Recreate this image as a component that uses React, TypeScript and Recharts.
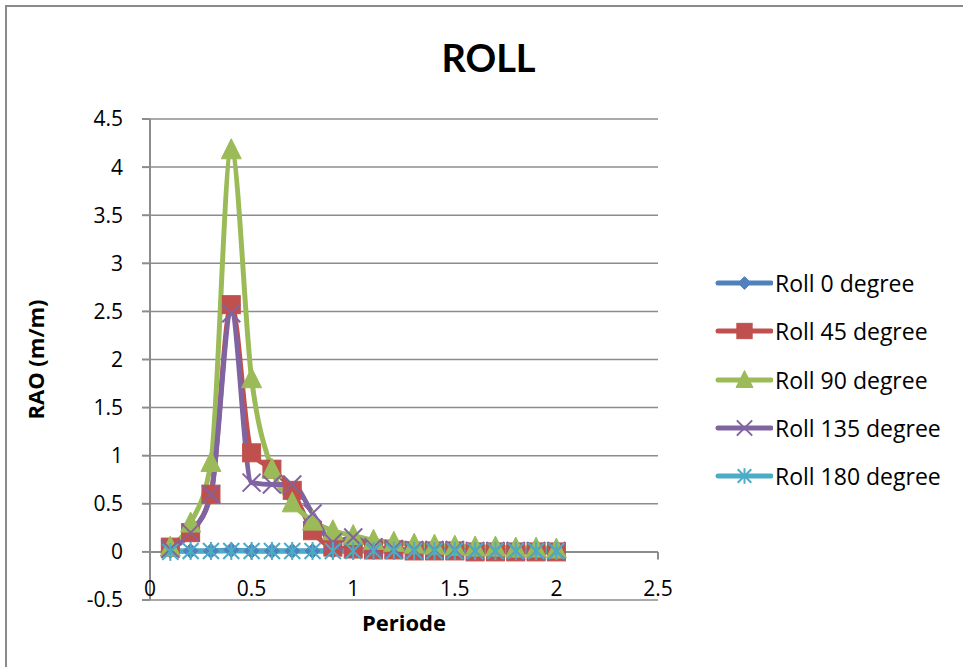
import React from 'react';
import { LineChart, Line, XAxis, YAxis, CartesianGrid, Legend, ReferenceLine, Label } from 'recharts';

const periods = [0.1, 0.2, 0.3, 0.4, 0.5, 0.6, 0.7, 0.8, 0.9, 1.0, 1.1, 1.2, 1.3, 1.4, 1.5, 1.6, 1.7, 1.8, 1.9, 2.0];
const roll0 = [0.01, 0.01, 0.01, 0.02, 0.01, 0.01, 0.01, 0.01, 0.01, 0.01, 0.01, 0.01, 0.01, 0.01, 0.01, 0.01, 0.01, 0.01, 0.01, 0.01];
const roll45 = [0.05, 0.2, 0.6, 2.57, 1.03, 0.86, 0.64, 0.22, 0.05, 0.03, 0.02, 0.02, 0.01, 0.01, 0.01, 0.0, 0.0, 0.0, 0.0, 0.0];
const roll90 = [0.05, 0.3, 0.93, 4.18, 1.8, 0.86, 0.51, 0.32, 0.22, 0.17, 0.12, 0.1, 0.08, 0.07, 0.06, 0.05, 0.05, 0.04, 0.04, 0.03];
const roll135 = [0.03, 0.2, 0.6, 2.48, 0.72, 0.7, 0.7, 0.4, 0.1, 0.15, 0.05, 0.03, 0.02, 0.02, 0.02, 0.01, 0.01, 0.01, 0.01, 0.01];
const roll180 = [0.0, 0.01, 0.01, 0.01, 0.01, 0.01, 0.01, 0.01, 0.01, 0.01, 0.01, 0.01, 0.01, 0.01, 0.01, 0.01, 0.01, 0.01, 0.01, 0.01];

const seriesNames = ['Roll 0 degree', 'Roll 45 degree', 'Roll 90 degree', 'Roll 135 degree', 'Roll 180 degree'];
const seriesKeys = ['r0', 'r45', 'r90', 'r135', 'r180'];
const seriesColors = ['#4F81BD', '#C0504D', '#9BBB59', '#8064A2', '#4BACC6'];
const seriesMarkers = ['diamond', 'square', 'triangle', 'x', 'star'];

const xTicks = [0, 0.5, 1, 1.5, 2, 2.5];
const yTicks = [-0.5, 0, 0.5, 1, 1.5, 2, 2.5, 3, 3.5, 4, 4.5];

const allSeries = [roll0, roll45, roll90, roll135, roll180];
const data = periods.map((p, i) => {
  const row: any = { x: p };
  seriesKeys.forEach((k, j) => { row[k] = allSeries[j][i]; });
  return row;
});

const GRID = '#8c8c8c';
const FONT = '"Open Sans", sans-serif';

function Marker({ kind, cx, cy, color, scale = 1 }: { kind: string; cx: number; cy: number; color: string; scale?: number }) {
  if (cx == null || cy == null) return null;
  switch (kind) {
    case 'diamond': {
      const s = 7.5 * scale;
      return <polygon points={`${cx},${cy - s} ${cx + s},${cy} ${cx},${cy + s} ${cx - s},${cy}`} fill={color} stroke={color} strokeWidth={1} />;
    }
    case 'square': {
      const s = 9 * scale;
      return <rect x={cx - s} y={cy - s} width={2 * s} height={2 * s} fill={color} stroke={color} strokeWidth={1} />;
    }
    case 'triangle': {
      const s = 10 * scale;
      return <polygon points={`${cx},${cy - s - 1} ${cx + s},${cy + s - 1} ${cx - s},${cy + s - 1}`} fill={color} stroke={color} strokeWidth={1} />;
    }
    case 'x': {
      const s = 9 * scale;
      return (
        <g stroke={color} strokeWidth={2}>
          <line x1={cx - s} y1={cy - s} x2={cx + s} y2={cy + s} />
          <line x1={cx - s} y1={cy + s} x2={cx + s} y2={cy - s} />
        </g>
      );
    }
    case 'star': {
      const s = 8 * scale;
      return (
        <g stroke={color} strokeWidth={2}>
          <line x1={cx - s} y1={cy - s} x2={cx + s} y2={cy + s} />
          <line x1={cx - s} y1={cy + s} x2={cx + s} y2={cy - s} />
          <line x1={cx} y1={cy - s - 1} x2={cx} y2={cy + s + 1} />
        </g>
      );
    }
    default:
      return null;
  }
}

const makeDot = (kind: string, color: string) => (props: any) => (
  <g key={`${kind}-${props.index}`}>
    <Marker kind={kind} cx={props.cx} cy={props.cy} color={color} />
  </g>
);

function CustomLegend() {
  return (
    <div style={{ fontFamily: FONT, fontSize: 23, color: '#000' }}>
      {seriesNames.map((n, i) => (
        <div key={n} style={{ display: 'flex', alignItems: 'center', height: 48.3 }}>
          <svg width={58} height={24} style={{ display: 'block' }}>
            <line x1={3} y1={12} x2={56} y2={12} stroke={seriesColors[i]} strokeWidth={5} strokeLinecap="round" />
            <Marker kind={seriesMarkers[i]} cx={29.5} cy={12} color={seriesColors[i]} scale={0.85} />
          </svg>
          <span style={{ marginLeft: 2, whiteSpace: 'nowrap' }}>{n}</span>
        </div>
      ))}
    </div>
  );
}

const XTick = (props: any) => {
  const { x, y, payload } = props;
  return (
    <text x={x} y={y - 12} textAnchor="middle" dominantBaseline="central" fontFamily={FONT} fontSize={21} fill="#000">
      {payload.value}
    </text>
  );
};

export default function App() {
  return (
    <div style={{ position: 'absolute', left: 0, top: 0, width: 963, height: 667, background: '#fff', overflow: 'hidden' }}>
      <div style={{ position: 'absolute', left: 5, top: 5, width: 1000, height: 700, border: '2px solid #8a8a8a' }} />
      <div style={{ position: 'absolute', left: 0, width: 977, top: 32, textAlign: 'center', fontFamily: 'Lato, sans-serif', fontWeight: 'bold', fontSize: 38, lineHeight: '50px', color: '#000' }}>
        ROLL
      </div>
      <div style={{ position: 'absolute', left: 0, top: 0 }}>
        <LineChart width={963} height={667} data={data} margin={{ top: 119, right: 305, bottom: 0, left: 0 }}>
          <CartesianGrid vertical={false} stroke={GRID} strokeWidth={1.5} />
          <XAxis
            type="number"
            dataKey="x"
            domain={[0, 2.5]}
            ticks={xTicks}
            axisLine={false}
            tickLine={false}
            tickSize={0}
            tickMargin={0}
            height={67}
            tick={<XTick />}
            interval={0}
          >
            <Label
              content={(p: any) => {
                const vb = p.viewBox || { x: 150, y: 600, width: 508 };
                return (
                  <text x={vb.x + vb.width / 2} y={622} textAnchor="middle" dominantBaseline="central" fontFamily={FONT} fontWeight="bold" fontSize={22} fill="#000">
                    Periode
                  </text>
                );
              }}
            />
          </XAxis>
          <YAxis
            type="number"
            domain={[-0.5, 4.5]}
            ticks={yTicks}
            width={150}
            interval={0}
            axisLine={{ stroke: GRID, strokeWidth: 2 }}
            tickLine={{ stroke: GRID, strokeWidth: 2 }}
            tickSize={8}
            tickMargin={19}
            tick={{ fontFamily: FONT, fontSize: 21, fill: '#000' }}
          >
            <Label
              content={(p: any) => {
                const vb = p.viewBox || { x: 0, y: 119, height: 481 };
                const cy = vb.y + vb.height / 2;
                return (
                  <text x={35} y={cy} transform={`rotate(-90, 35, ${cy})`} textAnchor="middle" dominantBaseline="central" fontFamily={FONT} fontWeight="bold" fontSize={22} fill="#000">
                    RAO (m/m)
                  </text>
                );
              }}
            />
          </YAxis>
          <ReferenceLine y={0} stroke={GRID} strokeWidth={2} />
          {xTicks.map((t) => (
            <ReferenceLine key={`xt-${t}`} segment={[{ x: t, y: 0 }, { x: t, y: -0.08 }]} stroke={GRID} strokeWidth={2} />
          ))}
          <Legend
            layout="vertical"
            verticalAlign="middle"
            align="center"
            wrapperStyle={{ position: 'absolute', left: 715, top: 259, width: 248 }}
            content={() => <CustomLegend />}
          />
          {seriesKeys.map((k, i) => (
            <Line
              key={k}
              type="monotone"
              dataKey={k}
              name={seriesNames[i]}
              stroke={seriesColors[i]}
              strokeWidth={5}
              strokeLinecap="round"
              strokeLinejoin="round"
              dot={makeDot(seriesMarkers[i], seriesColors[i])}
              activeDot={false}
              isAnimationActive={false}
            />
          ))}
        </LineChart>
      </div>
    </div>
  );
}
